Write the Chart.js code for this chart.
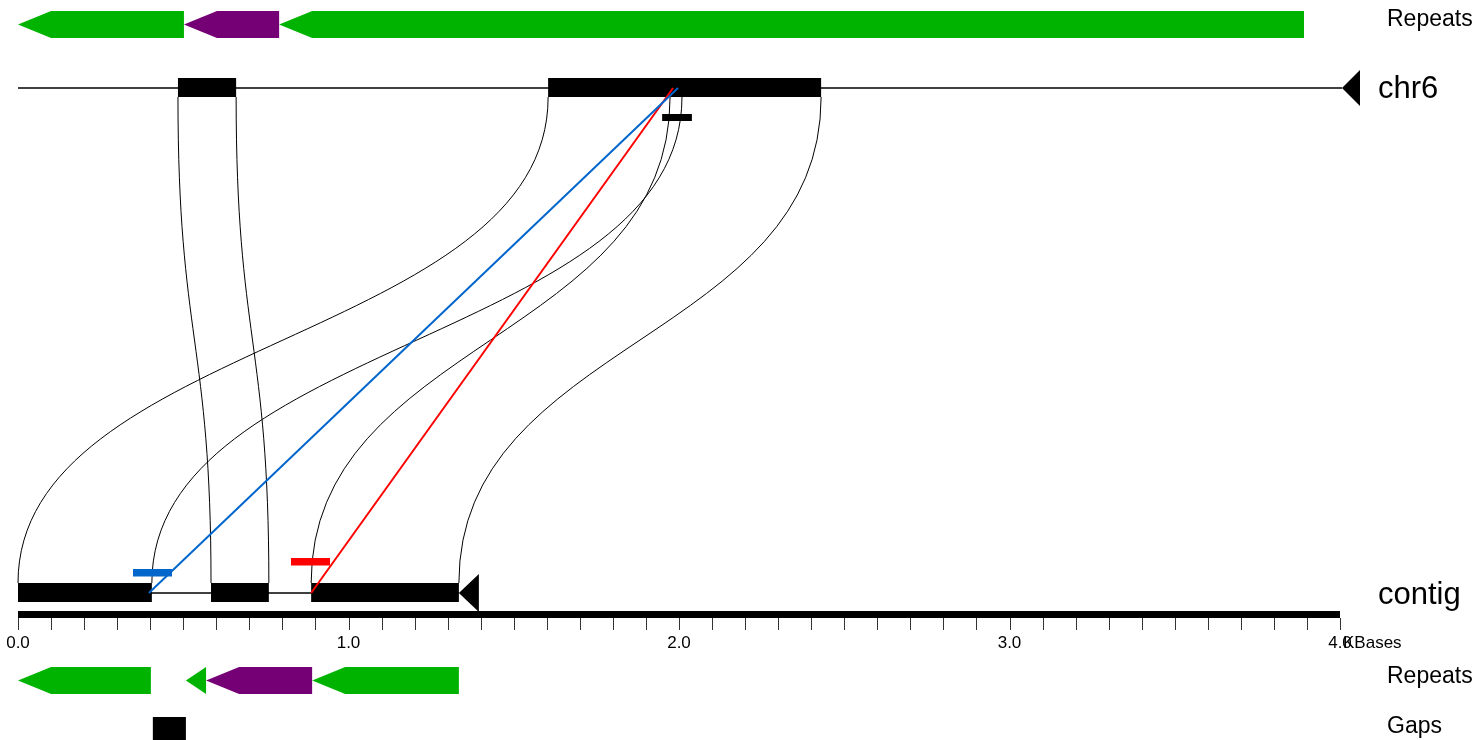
<!DOCTYPE html>
<html>
<head>
<meta charset="utf-8">
<script src="https://cdn.jsdelivr.net/npm/chart.js@4.4.1/dist/chart.umd.min.js"></script>
<style>
html,body{margin:0;padding:0;background:#fff}
#wrap{width:1484px;height:740px}
</style>
</head>
<body>
<div id="wrap"><canvas id="chart" width="1484" height="740"></canvas></div>
<script>

/* DATA (kb) */

const axisTicks=[0,1,2,3,4]
const axisEnd=4.0
const chr6End=4.006
const contigEnd=1.334

const chr6Blocks=[[0.484,0.660],[1.604,2.430]]
const contigBlocks=[[0.000,0.405],[0.584,0.759],[0.887,1.334]]

// alignments chr6 -> contig
const alnChr6=[[0.484,0.660],[1.604,2.009],[1.973,2.430]]
const alnContig=[[0.584,0.759],[0.000,0.405],[0.887,1.334]]

const chr6Repeats=[[0.000,0.502],[0.502,0.790],[0.790,3.891]]
const chr6RepeatType=["green","purple","green"]

const contigRepeats=[[0.000,0.402],[0.508,0.569],[0.569,0.890],[0.890,1.334]]
const contigRepeatType=["green","green","purple","green"]

const contigGaps=[[0.408,0.508]]

// breakpoint links: contig pos -> chr6 pos
const linkContig=[0.396,0.887]
const linkChr6=[1.997,1.982]
const linkColor=["#0066cc","#ff0000"]
const linkMarks=[[0.348,0.466],[0.826,0.944]]
const chr6Mark=[1.949,2.039]

/* LAYOUT */

const PX=330.5
const X0=18
const row={
topRep:24.5, chr6:88, chr6Top:78, chr6Bot:97,
contig:593, contigTop:583, contigBot:602,
axisTop:611, axisBot:618, tickBot:630, tickLbl:643,
botRep:680.5, gapTop:717, gapBot:745
}
const repH=13.5
const headKb=0.1
const colors={green:"#00b300",purple:"#750075"}

const FONT='"Liberation Sans", Arial, Helvetica, sans-serif'

function arrowLeft(ctx,x,a,b,yc,h,col){
const xa=x(a),xb=x(b)
const head=Math.min(x(a+headKb)-xa,xb-xa)
ctx.fillStyle=col
ctx.beginPath()
ctx.moveTo(xa,yc)
ctx.lineTo(xa+head,yc-h)
ctx.lineTo(xb,yc-h)
ctx.lineTo(xb,yc+h)
ctx.lineTo(xa+head,yc+h)
ctx.closePath()
ctx.fill()
}

const drawPlugin={
id:"genome",
beforeDatasetsDraw(chart){

const ctx=chart.ctx
const sx=chart.scales.x, sy=chart.scales.y
const x=v=>sx.getPixelForValue(v)
const y=v=>sy.getPixelForValue(v)

ctx.save()

/* repeats top */
chr6Repeats.forEach((r,i)=>arrowLeft(ctx,x,r[0],r[1],y(row.topRep),repH,colors[chr6RepeatType[i]]))

/* chr6 backbone */
ctx.strokeStyle="#000"
ctx.lineWidth=1.4
ctx.beginPath()
ctx.moveTo(x(0),y(row.chr6))
ctx.lineTo(x(chr6End),y(row.chr6))
ctx.stroke()
ctx.fillStyle="#000"
ctx.beginPath()
ctx.moveTo(x(chr6End),y(row.chr6))
ctx.lineTo(x(chr6End)+18,y(row.chr6)-18)
ctx.lineTo(x(chr6End)+18,y(row.chr6)+18)
ctx.closePath()
ctx.fill()

chr6Blocks.forEach(b=>{
ctx.fillRect(x(b[0]),y(row.chr6Top),x(b[1])-x(b[0]),y(row.chr6Bot)-y(row.chr6Top))
})

/* ribbons */
ctx.lineWidth=1
ctx.strokeStyle="#000"
const yT=y(row.chr6Bot), yB=y(row.contigTop), yM=(yT+yB)/2
alnChr6.forEach((a,i)=>{
const c=alnContig[i]
for(let k=0;k<2;k++){
const x1=x(a[k]), x2=x(c[k])
ctx.beginPath()
ctx.moveTo(x1,yT)
ctx.bezierCurveTo(x1,yM,x2,yM,x2,yB)
ctx.stroke()
}
})

/* chr6 mark */
ctx.fillStyle="#000"
ctx.fillRect(x(chr6Mark[0]),y(114),x(chr6Mark[1])-x(chr6Mark[0]),7)

/* contig backbone */
ctx.lineWidth=1.4
ctx.beginPath()
ctx.moveTo(x(0),y(row.contig))
ctx.lineTo(x(contigEnd),y(row.contig))
ctx.stroke()
contigBlocks.forEach(b=>{
ctx.fillRect(x(b[0]),y(row.contigTop),x(b[1])-x(b[0]),y(row.contigBot)-y(row.contigTop))
})
ctx.beginPath()
ctx.moveTo(x(contigEnd),y(row.contig))
ctx.lineTo(x(contigEnd)+20,y(row.contig)-19)
ctx.lineTo(x(contigEnd)+20,y(row.contig)+19)
ctx.closePath()
ctx.fill()

/* link marks */
linkMarks.forEach((m,i)=>{
ctx.fillStyle=linkColor[i]
const yy=i==0?569:558
ctx.fillRect(x(m[0]),y(yy),x(m[1])-x(m[0]),7.5)
})

/* axis */
ctx.fillStyle="#000"
ctx.fillRect(x(0),y(row.axisTop),x(axisEnd)-x(0),y(row.axisBot)-y(row.axisTop))
ctx.lineWidth=1
ctx.strokeStyle="#333"
for(let i=0;i<=40;i++){
const px=Math.round(x(i/10))+0.5
ctx.beginPath()
ctx.moveTo(px,y(row.axisBot))
ctx.lineTo(px,y(row.tickBot))
ctx.stroke()
}
ctx.fillStyle="#000"
ctx.font="17px "+FONT
ctx.textAlign="center"
ctx.textBaseline="middle"
axisTicks.forEach(t=>ctx.fillText(t.toFixed(1),x(t),y(row.tickLbl)))
ctx.textAlign="left"
ctx.fillText("KBases",1343,y(row.tickLbl))

/* repeats bottom */
contigRepeats.forEach((r,i)=>arrowLeft(ctx,x,r[0],r[1],y(row.botRep),repH,colors[contigRepeatType[i]]))

/* gaps */
ctx.fillStyle="#000"
contigGaps.forEach(g=>{
ctx.fillRect(x(g[0]),y(row.gapTop),x(g[1])-x(g[0]),y(row.gapBot)-y(row.gapTop))
})

/* labels */
ctx.fillStyle="#000"
ctx.textAlign="left"
ctx.textBaseline="middle"
ctx.font="23px "+FONT
ctx.fillText("Repeats",1387,20)
ctx.fillText("Repeats",1387,677)
ctx.fillText("Gaps",1387,727)
ctx.font="31px "+FONT
ctx.fillText("chr6",1378,89)
ctx.fillText("contig",1378,595)

ctx.restore()
}
}

const linkSets=linkContig.map((c,i)=>({
data:[{x:c,y:row.contig},{x:linkChr6[i],y:row.chr6}],
showLine:true,
borderColor:linkColor[i],
borderWidth:2,
pointRadius:0
}))

new Chart(document.getElementById("chart"),{
type:"scatter",
data:{datasets:linkSets},
options:{
responsive:false,
animation:false,
layout:{padding:0},
plugins:{legend:{display:false},tooltip:{enabled:false}},
scales:{
x:{type:"linear",display:false,min:-X0/PX,max:(1484-X0)/PX},
y:{type:"linear",display:false,min:0,max:740,reverse:true}
}
},
plugins:[drawPlugin]
})

</script>
</body>
</html>
